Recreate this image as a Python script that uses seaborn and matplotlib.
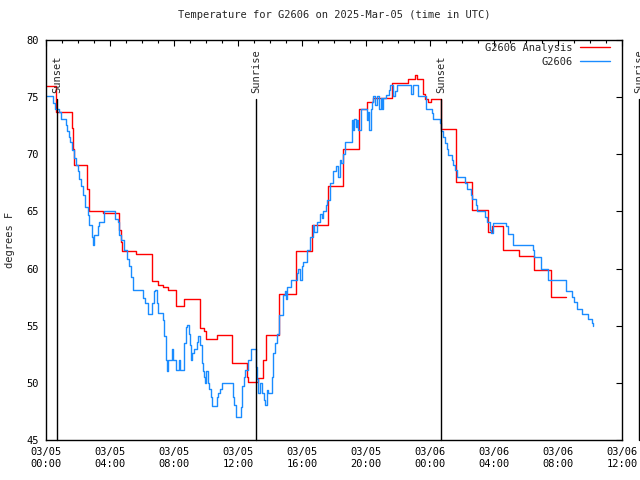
import pandas as pd
import matplotlib
matplotlib.use("Agg")
import matplotlib.pyplot as plt
import matplotlib.dates as mdates
import seaborn as sns

# --- Data (hours after 2025-03-05 00:00 UTC, degrees F) ---
obs_hours = [0.00, 0.42, 0.56, 0.79, 0.94, 1.25, 1.31, 1.44, 1.50, 1.63, 1.73, 1.88,
             2.02, 2.08, 2.19, 2.29, 2.46, 2.61, 2.71, 2.86, 2.92, 3.02, 3.23, 3.29,
             3.64, 4.33, 4.48, 4.58, 4.69, 4.89, 5.06, 5.21, 5.31, 5.42, 5.46, 6.08,
             6.19, 6.38, 6.61, 6.77, 6.81, 6.92, 7.02, 7.33, 7.38, 7.48, 7.54, 7.61,
             7.86, 7.92, 8.11, 8.31, 8.38, 8.64, 8.73, 8.79, 8.94, 9.00, 9.06, 9.14,
             9.27, 9.42, 9.52, 9.63, 9.73, 9.83, 9.89, 9.94, 10.00, 10.11, 10.19, 10.29,
             10.39, 10.67, 10.77, 10.88, 10.98, 11.67, 11.77, 11.88, 12.19, 12.27, 12.36, 12.44,
             12.64, 12.81, 13.13, 13.19, 13.27, 13.38, 13.48, 13.63, 13.69, 13.79, 13.89, 14.11,
             14.21, 14.31, 14.42, 14.56, 14.83, 14.94, 15.00, 15.08, 15.29, 15.67, 15.77, 15.88,
             15.98, 16.04, 16.33, 16.50, 16.67, 16.77, 16.92, 17.13, 17.23, 17.33, 17.50, 17.58,
             17.75, 17.94, 18.13, 18.25, 18.38, 18.44, 18.54, 18.69, 19.11, 19.17, 19.25, 19.36,
             19.46, 19.52, 19.67, 20.04, 20.14, 20.19, 20.29, 20.39, 20.46, 20.56, 20.67, 20.83,
             20.92, 20.98, 21.08, 21.25, 21.46, 21.50, 21.71, 21.81, 21.92, 22.81, 22.92, 23.23,
             23.75, 24.11, 24.17, 24.63, 24.69, 24.83, 24.94, 25.04, 25.14, 25.36, 25.46, 25.56,
             25.67, 26.19, 26.29, 26.54, 26.64, 26.86, 26.92, 27.44, 27.54, 27.75, 27.81, 27.92,
             28.75, 28.86, 29.17, 30.46, 30.52, 30.94, 31.39, 32.48, 32.86, 33.02, 33.21, 33.48,
             33.89, 34.11, 34.21]
obs_temp = [75.1, 74.5, 74.0, 73.7, 73.1, 72.6, 72.0, 71.5, 71.1, 70.4, 69.7, 69.1,
            68.5, 67.8, 67.2, 66.4, 65.4, 64.7, 63.8, 62.8, 62.1, 62.9, 63.7, 64.1,
            65.0, 64.3, 64.1, 62.9, 62.5, 61.6, 60.8, 60.2, 59.3, 58.7, 58.1, 57.4,
            57.0, 56.0, 57.0, 58.0, 58.1, 57.0, 56.1, 55.5, 54.1, 52.0, 51.0, 52.0,
            53.0, 52.0, 51.1, 52.0, 51.1, 53.5, 54.9, 55.1, 54.3, 53.3, 52.0, 52.6,
            53.0, 53.6, 54.1, 53.3, 51.7, 51.0, 50.5, 50.0, 51.0, 50.0, 49.5, 48.8,
            48.0, 48.8, 49.1, 49.5, 50.0, 48.8, 48.1, 47.0, 47.9, 49.7, 50.5, 51.1,
            52.0, 53.0, 51.4, 50.3, 49.1, 50.0, 49.1, 48.5, 48.1, 49.4, 49.1, 50.5,
            52.6, 53.5, 54.3, 55.9, 57.7, 58.0, 57.3, 58.4, 59.0, 59.6, 60.0, 59.0,
            60.2, 60.6, 61.6, 62.8, 63.8, 63.2, 64.1, 64.8, 64.4, 65.0, 65.6, 66.0,
            67.5, 68.5, 69.0, 68.0, 69.5, 69.2, 70.0, 71.1, 73.0, 72.1, 73.1, 72.4,
            73.0, 72.1, 74.0, 73.0, 73.7, 72.1, 74.0, 74.6, 75.1, 74.3, 75.1, 74.0,
            74.9, 74.0, 74.9, 75.2, 75.6, 76.1, 75.1, 75.5, 76.1, 75.3, 76.1, 75.1,
            74.0, 73.6, 73.1, 72.7, 72.0, 71.5, 71.0, 70.5, 69.9, 69.5, 69.1, 68.6,
            68.0, 67.5, 67.0, 66.4, 66.1, 65.6, 65.0, 64.5, 64.1, 63.4, 63.1, 64.0,
            63.7, 63.0, 62.1, 61.6, 61.0, 60.0, 59.0, 58.0, 57.5, 57.1, 56.5, 56.0,
            55.6, 55.2, 55.0]

ana_hours = [0.00, 0.63, 1.63, 1.69, 1.75, 2.58, 2.66, 3.58, 4.54, 4.69, 4.78, 5.63,
             6.63, 6.98, 7.33, 7.64, 8.13, 8.64, 9.63, 9.89, 10.00, 10.67, 11.64, 12.54,
             12.64, 13.23, 13.58, 13.73, 14.58, 15.61, 16.61, 17.61, 18.58, 19.58, 20.04, 20.46,
             21.64, 22.61, 23.06, 23.19, 23.54, 23.69, 23.88, 24.06, 24.67, 25.61, 26.61, 27.61,
             27.86, 28.58, 29.58, 30.52, 31.54, 32.50]
ana_temp = [76.0, 73.7, 72.3, 70.5, 69.1, 67.0, 65.0, 64.9, 63.4, 62.3, 61.5, 61.3,
            58.9, 58.6, 58.4, 58.1, 56.7, 57.3, 54.8, 54.5, 53.8, 54.2, 51.7, 50.5,
            50.1, 50.4, 52.0, 54.2, 57.8, 61.5, 63.8, 67.2, 70.5, 74.0, 74.6, 74.9,
            76.2, 76.6, 76.9, 76.6, 75.3, 74.8, 74.6, 74.8, 72.2, 67.6, 65.1, 63.2,
            63.7, 61.6, 61.1, 59.9, 57.5, 57.5]

sun_labels = ["Sunset", "Sunrise", "Sunset", "Sunrise"]
sun_hours = [0.70, 13.13, 24.71, 37.08]

start = pd.Timestamp("2025-03-05 00:00")
obs = pd.DataFrame({"time": start + pd.to_timedelta(obs_hours, unit="h"), "temp": obs_temp})
ana = pd.DataFrame({"time": start + pd.to_timedelta(ana_hours, unit="h"), "temp": ana_temp})
sun_times = start + pd.to_timedelta(sun_hours, unit="h")

# --- Style ---
sns.set_style("white")
plt.rcParams['font.family'] = ['DejaVu Sans Mono', 'DejaVu Sans']
plt.rcParams['font.size'] = 7.5

fig = plt.figure(figsize=(6.4, 4.8), dpi=100)
ax = fig.add_axes([46 / 640, 40 / 480, 576 / 640, 400 / 480])

sns.lineplot(data=ana, x="time", y="temp", ax=ax, color="#ff0000", lw=1.0,
             drawstyle="steps-post", label="G2606 Analysis")
sns.lineplot(data=obs, x="time", y="temp", ax=ax, color="#1a8cff", lw=1.0,
             drawstyle="steps-post", label="G2606")

# sunrise / sunset markers (last one sits just past the right edge, like the original)
for t, lab in zip(sun_times, sun_labels):
    ax.plot([t, t], [45, 74.8], color="black", lw=1, clip_on=False)
    ax.text(t, 75.4, lab, rotation=90, ha="center", va="bottom", fontsize=7.5, clip_on=False)

ax.set_xlim(start, start + pd.Timedelta(hours=36))
ax.set_ylim(45, 80)
ax.set_yticks(range(45, 81, 5))
ax.xaxis.set_major_locator(mdates.HourLocator(byhour=range(0, 24, 4)))
ax.xaxis.set_minor_locator(mdates.HourLocator())
ax.xaxis.set_major_formatter(mdates.DateFormatter("%m/%d\n%H:%M"))

ax.tick_params(which="both", direction="in", top=True, right=True, colors="black", labelsize=7.5)
ax.tick_params(which="major", length=4, width=0.8, pad=5)
ax.tick_params(which="minor", length=2.2, width=0.8)
for s in ax.spines.values():
    s.set_color("black")
    s.set_linewidth(1)

ax.set_xlabel("")
ax.set_ylabel("degrees F", fontsize=7.5, labelpad=8)
ax.set_title("Temperature for G2606 on 2025-Mar-05 (time in UTC)", fontsize=7.5, pad=16)

ax.legend(loc="upper right", bbox_to_anchor=(1 - 12 / 576, 1 - 3 / 400), frameon=False,
          markerfirst=False, borderpad=0, borderaxespad=0, handlelength=2.9,
          handletextpad=0.7, labelspacing=0.35, fontsize=7.5)

fig.savefig("out.png", dpi=100)
